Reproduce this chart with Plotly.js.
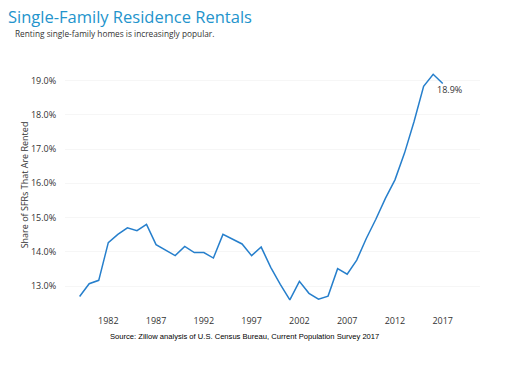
<!DOCTYPE html>
<html><head><meta charset="utf-8">
<script src="https://cdn.plot.ly/plotly-3.0.1.min.js"></script>
<style>html,body{margin:0;padding:0;background:#fff}#chart{width:507px;height:368px}</style>
</head><body><div id="chart"></div>
<script>
const years = [1979,1980,1981,1982,1983,1984,1985,1986,1987,1988,1989,1990,1991,1992,1993,1994,1995,1996,1997,1998,1999,2000,2001,2002,2003,2004,2005,2006,2007,2008,2009,2010,2011,2012,2013,2014,2015,2016,2017];
const sharePct = [12.70,13.07,13.17,14.27,14.51,14.70,14.62,14.80,14.21,14.05,13.89,14.16,13.98,13.98,13.82,14.51,14.37,14.23,13.89,14.14,13.55,13.05,12.60,13.14,12.79,12.62,12.71,13.51,13.35,13.76,14.39,14.95,15.56,16.10,16.88,17.80,18.83,19.18,18.91];
const lastLabel = "18.9%";
const titleText = "Single-Family Residence Rentals";
const subtitleText = "Renting single-family homes is increasingly popular.";
const sourceText = "Source: Zillow analysis of U.S. Census Bureau, Current Population Survey 2017";
const yTitle = "Share of SFRs That Are Rented";

const W = 507, H = 368, L = 65, R = 27, T = 65, B = 63;
const px = x => (x - L) / (W - L - R);
const py = y => (H - B - y) / (H - T - B);
const font = "Open Sans, sans-serif";

const trace = {
  x: years, y: sharePct, type: 'scatter', mode: 'lines',
  line: {color: 'rgb(38,127,204)', width: 1.5}, hoverinfo: 'skip'
};
const layout = {
  width: W, height: H,
  margin: {l: L, r: R, t: T, b: B},
  paper_bgcolor: '#fff', plot_bgcolor: '#fff',
  showlegend: false,
  font: {family: font, color: '#333', size: 9},
  title: {text: titleText, font: {family: font, size: 16.5, color: 'rgb(35,148,204)'},
          x: 8/W, xanchor: 'left', xref: 'container', y: 1 - 17/H, yanchor: 'middle', yref: 'container'},
  xaxis: {range: [1977.47, 2020.9], tick0: 1982, dtick: 5, showgrid: false, zeroline: false,
          showline: false, ticks: 'outside', ticklen: 7, tickcolor: 'rgba(0,0,0,0)',
          tickfont: {family: font, size: 9, color: '#333'}},
  yaxis: {range: [12.45, 19.45], dtick: 1, tick0: 13, tickformat: '.1f', ticksuffix: '%',
          showgrid: true, gridcolor: '#f6f6f6', zeroline: false, showline: false,
          ticks: 'outside', ticklen: 6, tickcolor: 'rgba(0,0,0,0)',
          tickfont: {family: font, size: 9, color: '#333'},
          title: {text: yTitle, standoff: 0, font: {family: font, size: 9, color: '#333'}}},
  annotations: [
    {text: subtitleText, xref: 'paper', yref: 'paper', x: px(13), y: py(33), xanchor: 'left', yanchor: 'middle',
     showarrow: false, font: {family: font, size: 8.3, color: '#333'}},
    {text: sourceText, xref: 'paper', yref: 'paper', x: px(244), y: py(336), xanchor: 'center', yanchor: 'middle',
     showarrow: false, font: {family: 'Liberation Sans, Arial, sans-serif', size: 7.6, color: '#000'}},
    {text: lastLabel, x: years[years.length-1], y: sharePct[sharePct.length-1], xanchor: 'left', yanchor: 'top',
     xshift: -8, yshift: 3, showarrow: false, font: {family: font, size: 9, color: '#333'}}
  ]
};
Plotly.newPlot('chart', [trace], layout, {displayModeBar: false, staticPlot: true});
</script></body></html>
